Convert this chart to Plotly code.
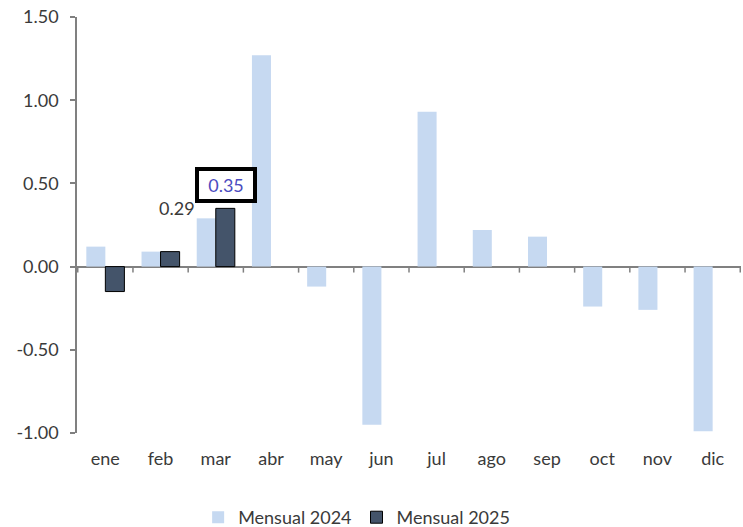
import plotly.graph_objects as go

# datos
meses = ["ene", "feb", "mar", "abr", "may", "jun", "jul", "ago", "sep", "oct", "nov", "dic"]
mensual_2024 = [0.12, 0.09, 0.29, 1.27, -0.12, -0.95, 0.93, 0.22, 0.18, -0.24, -0.26, -0.99]
meses_2025 = ["ene", "feb", "mar"]
mensual_2025 = [-0.15, 0.09, 0.35]
y_ticks = [-1.0, -0.5, 0.0, 0.5, 1.0, 1.5]
y_labels = ["-1.00", "-0.50", "0.00", "0.50", "1.00", "1.50"]

FONT = "Lato"
GRIS = "#3a3a3a"

fig = go.Figure()
fig.add_trace(go.Bar(x=meses, y=mensual_2024, name="Mensual 2024",
                     marker=dict(color="#C6D9F1", line=dict(width=0))))
fig.add_trace(go.Bar(x=meses_2025, y=mensual_2025, name="Mensual 2025",
                     marker=dict(color="#44546A", line=dict(color="#000000", width=1))))

# marcas del eje x sobre la línea del cero
for k in range(len(meses) + 1):
    fig.add_shape(type="line", xref="x", yref="y", x0=k - 0.5, x1=k - 0.5,
                  ysizemode="pixel", yanchor=0, y0=0, y1=-6,
                  line=dict(color="#808080", width=1.5))

# etiquetas de marzo
fig.add_annotation(x="mar", y=mensual_2024[2], xshift=-39, yshift=10, text="0.29",
                   showarrow=False, font=dict(family=FONT, size=18, color=GRIS))
fig.add_annotation(x="mar", y=mensual_2025[2], xshift=10, yshift=23, text="0.35",
                   showarrow=False, font=dict(family=FONT, size=18, color="#4B4BC0"),
                   bordercolor="#000000", borderwidth=4, borderpad=3, bgcolor="white",
                   width=48)

fig.update_layout(
    width=743, height=527,
    margin=dict(l=77, r=2, t=17, b=94, autoexpand=False),
    plot_bgcolor="white", paper_bgcolor="white",
    barmode="group", bargap=0.31, bargroupgap=0,
    font=dict(family=FONT, size=18, color=GRIS),
    showlegend=True,
    legend=dict(orientation="h", xref="container", yref="container",
                x=0.48, xanchor="center", y=0.018, yanchor="middle",
                font=dict(size=18, color=GRIS), itemwidth=30),
    xaxis=dict(showline=False, ticks="", showgrid=False, ticklabelstandoff=13,
               automargin=False),
    yaxis=dict(range=[-1.0, 1.5], tickvals=y_ticks, ticktext=y_labels,
               showgrid=False, zeroline=True, zerolinecolor="#808080", zerolinewidth=1.5,
               showline=True, linecolor="#808080", linewidth=1.5,
               ticks="outside", ticklen=5, tickwidth=1.5, tickcolor="#808080",
               automargin=False, ticklabelstandoff=8),
)

fig.write_html("out.html", config={"displayModeBar": False},
               post_script="document.body.style.margin='0px';")
